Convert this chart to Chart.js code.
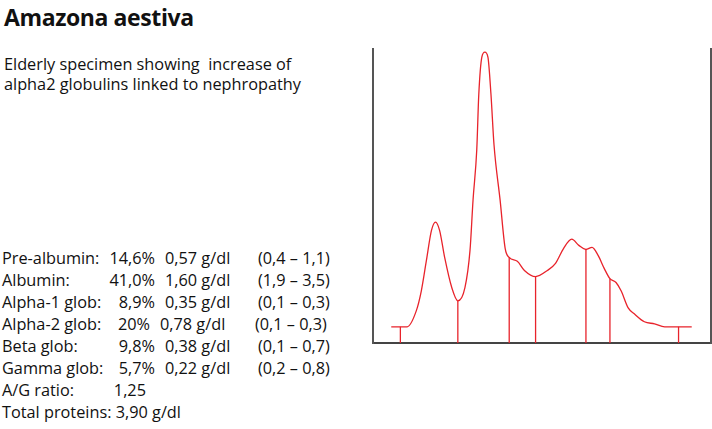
<!DOCTYPE html>
<html>
<head>
<meta charset="utf-8">
<script src="https://cdn.jsdelivr.net/npm/chart.js@4"></script>
<style>
  body { margin: 0; background: #fff; width: 712px; height: 429px; overflow: hidden; position: relative; font-family: "Open Sans", sans-serif; color: #111; }
  #title { position: absolute; left: 4px; top: 1px; font-size: 23px; font-weight: 700; letter-spacing: -0.4px; }
  #subtitle { position: absolute; left: 4px; top: 54px; font-size: 16.3px; line-height: 20px; }
  #results { position: absolute; left: 2px; top: 247px; width: 360px; font-size: 16.3px; }
  .row { position: relative; height: 22px; white-space: nowrap; }
  .row span { position: absolute; top: 0; }
  #chartBox { position: absolute; left: 372px; top: 48px; width: 340px; height: 296px; }
</style>
</head>
<body>
<div id="title">Amazona aestiva</div>
<div id="subtitle">Elderly specimen showing&nbsp; increase of<br>alpha2 globulins linked to nephropathy</div>
<div id="results"></div>
<div id="chartBox"><canvas id="chart"></canvas></div>

<script>
// densitometric trace, relative migration (x) vs relative density (y)
const traceX = [5.4, 10.1, 12.8, 14.3, 15.8, 17.3, 18.5, 19.7, 21.2, 23.3, 25.1, 27.2, 28.7, 29.6, 30.7, 31.3, 32.2, 33.1, 34.0, 34.9, 35.8, 37.6, 39.1, 40.3, 42.7, 44.8, 48.1, 51.6, 54.0, 56.4, 58.8, 60.9, 63.0, 64.8, 66.6, 68.4, 70.1, 71.9, 73.4, 75.5, 77.3, 80.3, 83.3, 86.3, 94.3];
const traceY = [5.5, 5.5, 10.9, 17.7, 28.0, 38.2, 41.0, 38.2, 29.0, 18.8, 14.3, 18.8, 31.4, 48.5, 65.5, 84.3, 96.9, 98.6, 96.9, 84.3, 67.2, 48.5, 32.1, 29.0, 27.7, 24.6, 22.5, 24.6, 27.0, 32.1, 35.2, 33.1, 31.7, 32.4, 29.7, 25.3, 21.8, 20.5, 17.7, 11.9, 9.9, 7.2, 6.5, 5.5, 5.5];

// fraction limits and the trace height at each limit
const cutX = [8.1, 25.1, 40.3, 48.1, 63.0, 70.1, 90.4];
const cutY = [5.5, 14.3, 29.0, 22.5, 31.7, 21.8, 5.5];

// results table
const fractions = ["Pre-albumin:", "Albumin:", "Alpha-1 glob:", "Alpha-2 glob:", "Beta glob:", "Gamma glob:", "A/G ratio:", "Total proteins: 3,90 g/dl"];
const percents = ["14,6%", "41,0%", "8,9%", "20%", "9,8%", "5,7%", "1,25", ""];
const grams = ["0,57 g/dl", "1,60 g/dl", "0,35 g/dl", "0,78 g/dl", "0,38 g/dl", "0,22 g/dl", "", ""];
const ranges = ["(0,4 \u2013 1,1)", "(1,9 \u2013 3,5)", "(0,1 \u2013 0,3)", "(0,1 \u2013 0,3)", "(0,1 \u2013 0,7)", "(0,2 \u2013 0,8)", "", ""];

const results = document.getElementById("results");
fractions.forEach((name, i) => {
  const row = document.createElement("div");
  row.className = "row";
  const pctEnd = i === 3 ? 148 : (i === 6 ? 144 : 153);
  const gLeft = i === 3 ? 158 : 163;
  const rLeft = i === 3 ? 253 : 256;
  row.innerHTML =
    `<span style="left:0">${name}</span>` +
    `<span style="left:${pctEnd - 60}px;width:60px;text-align:right">${percents[i]}</span>` +
    `<span style="left:${gLeft}px">${grams[i]}</span>` +
    `<span style="left:${rLeft}px">${ranges[i]}</span>`;
  results.appendChild(row);
});

const red = "#e8232b";
const datasets = [{
  data: traceX.map((x, i) => ({ x: x, y: traceY[i] })),
  borderColor: red,
  borderWidth: 1.3,
  pointRadius: 0,
  cubicInterpolationMode: "monotone"
}];
cutX.forEach((x, i) => {
  datasets.push({
    data: [{ x: x, y: 0 }, { x: x, y: cutY[i] }],
    borderColor: red,
    borderWidth: 1.3,
    pointRadius: 0
  });
});

new Chart(document.getElementById("chart"), {
  type: "line",
  data: { datasets: datasets },
  options: {
    responsive: true,
    maintainAspectRatio: false,
    animation: false,
    layout: { padding: { left: 1, right: 1, top: 0, bottom: 1 } },
    plugins: { legend: { display: false }, tooltip: { enabled: false } },
    scales: {
      x: {
        type: "linear", min: 0, max: 100,
        grid: { display: false, drawTicks: false },
        ticks: { display: false },
        border: { color: "#444", width: 2 }
      },
      y: {
        min: 0, max: 100,
        grid: { display: false, drawTicks: false },
        ticks: { display: false },
        border: { color: "#555", width: 2 }
      },
      y2: {
        position: "right", min: 0, max: 100,
        grid: { display: false, drawTicks: false },
        ticks: { display: false },
        border: { color: "#555", width: 2 }
      }
    }
  }
});
</script>
</body>
</html>
